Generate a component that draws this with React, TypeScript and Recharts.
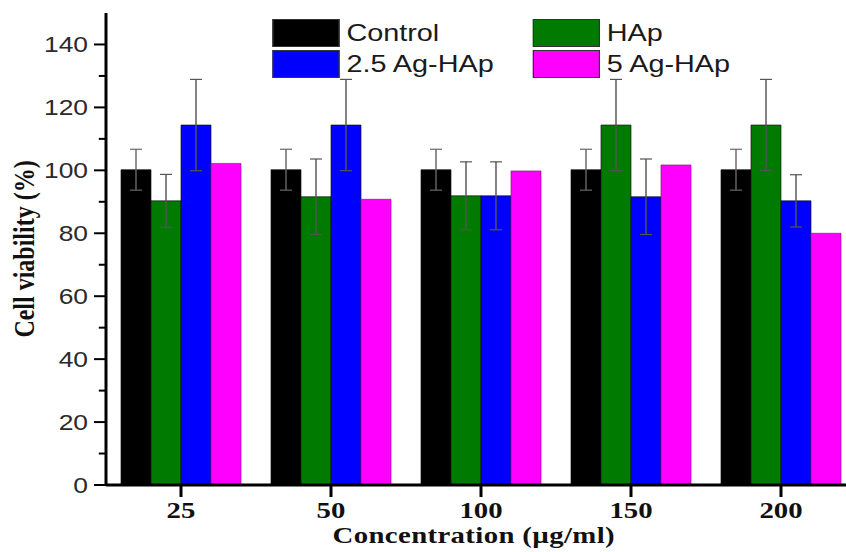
import React from "react";
import { BarChart, Bar, XAxis, YAxis, ErrorBar, Label } from "recharts";

const concentrations = ["25", "50", "100", "150", "200"];

const seriesNames = ["Control", "HAp", "2.5 Ag-HAp", "5 Ag-HAp"];
const seriesColors = ["#000000", "#007a00", "#0000ff", "#ff00ff"];

const control = [100.2, 100.2, 100.2, 100.2, 100.2];
const controlErr = [6.5, 6.5, 6.5, 6.5, 6.5];
const hap = [90.3, 91.6, 91.9, 114.4, 114.4];
const hapErr = [8.4, 12, 10.8, 14.5, 14.5];
const ag25 = [114.4, 114.4, 91.9, 91.6, 90.3];
const ag25Err = [14.5, 14.5, 10.8, 12, 8.3];
const ag5 = [102.2, 90.8, 99.8, 101.7, 80];

const yTicks = [0, 10, 20, 30, 40, 50, 60, 70, 80, 90, 100, 110, 120, 130, 140];

const data = concentrations.map((c, i) => ({
    conc: c,
    control: control[i],
    controlErr: controlErr[i],
    hap: hap[i],
    hapErr: hapErr[i],
    ag25: ag25[i],
    ag25Err: ag25Err[i],
    ag5: ag5[i],
}));

// the source figure is stretched sideways, so the whole chart is drawn narrower and scaled by 1.2
const STRETCH = 1.2;
const sans = "'Liberation Sans', Arial, sans-serif";
const serif = "'Liberation Serif', 'Times New Roman', serif";

const YTick = (props: any) => {
    const { x, y, payload } = props;
    const major = payload.value % 20 === 0;
    return (
        <g>
            <line x1={x - (major ? 10 : 6)} x2={x} y1={y} y2={y} stroke="#000" strokeWidth={2} />
            {major ? (
                <text
                    x={x - 15}
                    y={y}
                    textAnchor="end"
                    dominantBaseline="central"
                    fontFamily={sans}
                    fontSize={22}
                    fill="#2a2a2a"
                >
                    {payload.value}
                </text>
            ) : null}
        </g>
    );
};

const XTick = (props: any) => {
    const { x, y, payload } = props;
    return (
        <text
            x={x}
            y={y + 21}
            textAnchor="middle"
            fontFamily={serif}
            fontWeight="bold"
            fontSize={24}
            fill="#111"
        >
            {payload.value}
        </text>
    );
};

const LegendBox = () => (
    <div
        style={{
            position: "absolute",
            left: 226.7,
            top: 18,
            display: "grid",
            gridTemplateColumns: "217px auto",
            rowGap: 2,
            fontFamily: sans,
            fontSize: 24,
            color: "#1a1a1a",
        }}
    >
        {seriesNames.map((name, i) => (
            <div key={name} style={{ display: "flex", alignItems: "center", height: 29 }}>
                <div
                    style={{
                        width: 56,
                        height: 28,
                        background: seriesColors[i],
                        border: "0.5px solid #333",
                        boxSizing: "border-box",
                    }}
                />
                <span style={{ marginLeft: 6, lineHeight: "29px" }}>{name}</span>
            </div>
        ))}
    </div>
);

export default function App() {
    return (
        <div
            style={{
                position: "absolute",
                left: 0,
                top: 0,
                width: 846,
                height: 552,
                overflow: "hidden",
                background: "#fff",
            }}
        >
            <div
                style={{
                    position: "relative",
                    width: 760,
                    height: 552,
                    transform: `scaleX(${STRETCH})`,
                    transformOrigin: "0 0",
                }}
            >
                <BarChart
                    width={760}
                    height={552}
                    data={data}
                    margin={{ top: 13, right: 46.67, bottom: 0, left: 8.33 }}
                    barCategoryGap="10%"
                    barGap={0}
                >
                    <XAxis
                        dataKey="conc"
                        height={67}
                        tick={<XTick />}
                        tickSize={12}
                        tickMargin={0}
                        tickLine={{ stroke: "#000", strokeWidth: 2.5 }}
                        axisLine={{ stroke: "#000", strokeWidth: 3 }}
                        interval={0}
                    >
                        <Label
                            value="Concentration (µg/ml)"
                            position="insideBottom"
                            offset={9}
                            dx={-6}
                            style={{
                                fontFamily: serif,
                                fontWeight: "bold",
                                fontSize: 24,
                                fill: "#111",
                                letterSpacing: 0.3,
                            }}
                        />
                    </XAxis>
                    <XAxis
                        xAxisId="top"
                        dataKey="conc"
                        orientation="top"
                        height={0}
                        tick={false}
                        tickLine={false}
                        axisLine={{ stroke: "#000", strokeWidth: 3 }}
                    />
                    <YAxis
                        width={80}
                        domain={[0, 150]}
                        ticks={yTicks}
                        interval={0}
                        tick={<YTick />}
                        tickSize={0}
                        tickMargin={0}
                        tickLine={false}
                        axisLine={{ stroke: "#000", strokeWidth: 2.5 }}
                    >
                        <Label
                            value="Cell viability (%)"
                            angle={-90}
                            position="insideLeft"
                            offset={11.7}
                            style={{
                                textAnchor: "middle",
                                fontFamily: serif,
                                fontWeight: "bold",
                                fontSize: 24,
                                fill: "#111",
                            }}
                        />
                    </YAxis>
                    <Bar dataKey="control" name={seriesNames[0]} fill={seriesColors[0]} stroke="#111" strokeWidth={0.6} isAnimationActive={false}>
                        <ErrorBar dataKey="controlErr" width={5} stroke="#666" strokeWidth={1.2} direction="y" />
                    </Bar>
                    <Bar dataKey="hap" name={seriesNames[1]} fill={seriesColors[1]} stroke="#111" strokeWidth={0.6} isAnimationActive={false}>
                        <ErrorBar dataKey="hapErr" width={5} stroke="#555" strokeWidth={1.2} direction="y" />
                    </Bar>
                    <Bar dataKey="ag25" name={seriesNames[2]} fill={seriesColors[2]} stroke="#111" strokeWidth={0.6} isAnimationActive={false}>
                        <ErrorBar dataKey="ag25Err" width={5} stroke="#555" strokeWidth={1.2} direction="y" />
                    </Bar>
                    <Bar dataKey="ag5" name={seriesNames[3]} fill={seriesColors[3]} stroke="#8a108a" strokeWidth={0.6} isAnimationActive={false} />
                </BarChart>
                <LegendBox />
            </div>
        </div>
    );
}
